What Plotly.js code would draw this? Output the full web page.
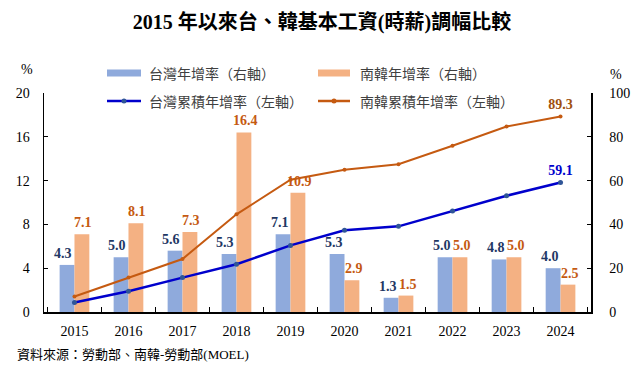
<!DOCTYPE html>
<html><head><meta charset="utf-8">
<script src="https://cdn.plot.ly/plotly-3.0.1.min.js"></script>
<style>html,body{margin:0;padding:0;background:#fff}</style>
</head><body>
<div id="chart" style="width:644px;height:371px"></div>
<script>
const years = ['2015','2016','2017','2018','2019','2020','2021','2022','2023','2024'];
const twAnnual = [4.3,5.0,5.6,5.3,7.1,5.3,1.3,5.0,4.8,4.0];
const krAnnual = [7.1,8.1,7.3,16.4,10.9,2.9,1.5,5.0,5.0,2.5];
const twCum = [4.3,9.5,15.7,21.8,30.4,37.3,39.1,46.1,53.1,59.1];
const krCum = [7.1,15.8,24.2,44.6,60.4,65.0,67.5,75.9,84.7,89.3];
const names = ['台灣年增率（右軸）','南韓年增率（右軸）','台灣累積年增率（左軸）','南韓累積年增率（左軸）'];

const SERIF = 'Liberation Serif, Times New Roman, Noto Sans CJK TC, serif';
const CJK = 'Noto Sans CJK TC, Liberation Serif, sans-serif';
const C = {twBar:'#8FAADC', krBar:'#F4B183', twLine:'#0000CC', twMark:'#2F5597', krLine:'#C55A11',
  twText:'#1F3864', krText:'#C55A11', krEnd:'#A0500E'};

function lastOnly(arr){ return arr.map((v,i)=> i===arr.length-1 ? v.toFixed(1) : ''); }

const traces = [
  {type:'bar', name:names[0], x:years, y:twAnnual, marker:{color:C.twBar}, yaxis:'y', showlegend:false},
  {type:'bar', name:names[1], x:years, y:krAnnual, marker:{color:C.krBar}, yaxis:'y', showlegend:false},
  {type:'scatter', mode:'lines+markers+text', name:names[2], x:years, y:twCum, yaxis:'y2',
   line:{color:C.twLine, width:2.5}, marker:{color:C.twMark, size:5},
   text:lastOnly(twCum), textposition:'top center', cliponaxis:false,
   textfont:{family:SERIF, size:14, color:C.twLine, weight:'bold'}, showlegend:false},
  {type:'scatter', mode:'lines+markers+text', name:names[3], x:years, y:krCum, yaxis:'y2',
   line:{color:C.krLine, width:2}, marker:{color:C.krLine, size:4},
   text:lastOnly(krCum), textposition:'top center', cliponaxis:false,
   textfont:{family:SERIF, size:14, color:C.krEnd, weight:'bold'}, showlegend:false}
];

const L = 44, R = 591, T = 93, B = 312;
function px(x){ return (x - L)/(R - L); }
function py(y){ return (B - y)/(B - T); }

const shapes = [], annotations = [];
// bar value labels (x = category index on the category axis)
years.forEach((yr,i)=>{
  annotations.push({xref:'x', yref:'y', x:i, y:twAnnual[i], xshift:-11, yshift:2,
    xanchor:'center', yanchor:'bottom', text:twAnnual[i].toFixed(1), showarrow:false,
    font:{family:SERIF, size:14, color:C.twText, weight:'bold'}});
  annotations.push({xref:'x', yref:'y', x:i, y:krAnnual[i], xshift:9, yshift:2,
    xanchor:'center', yanchor:'bottom', text:krAnnual[i].toFixed(1), showarrow:false,
    font:{family:SERIF, size:14, color:C.krText, weight:'bold'}});
});
// manual legend
const leg = [
  {x0:107,x1:141,y:73,tx:147,kind:'bar',color:C.twBar,label:names[0]},
  {x0:318,x1:350,y:73,tx:358,kind:'bar',color:C.krBar,label:names[1]},
  {x0:107,x1:141,y:101,tx:147,kind:'line',color:C.twLine,mcolor:C.twMark,label:names[2]},
  {x0:318,x1:350,y:101,tx:358,kind:'line',color:C.krLine,mcolor:C.krLine,label:names[3]}
];
leg.forEach(e=>{
  if(e.kind==='bar'){
    shapes.push({type:'rect', xref:'paper', yref:'paper', x0:px(e.x0), x1:px(e.x1),
      y0:py(e.y+3.5), y1:py(e.y-3.5), fillcolor:e.color, line:{width:0}});
  } else {
    shapes.push({type:'line', xref:'paper', yref:'paper', x0:px(e.x0), x1:px(e.x1),
      y0:py(e.y), y1:py(e.y), line:{color:e.color, width:2.5}});
    const cx = (e.x0+e.x1)/2;
    shapes.push({type:'circle', xref:'paper', yref:'paper', xsizemode:'pixel', ysizemode:'pixel',
      xanchor:px(cx), yanchor:py(e.y), x0:-2.5, x1:2.5, y0:-2.5, y1:2.5,
      fillcolor:e.mcolor, line:{width:0}});
  }
  annotations.push({xref:'paper', yref:'paper', x:px(e.tx), y:py(e.y), xanchor:'left', yanchor:'middle',
    text:e.label, showarrow:false, font:{family:CJK, size:14, color:'#404040'}});
});
annotations.push({xref:'paper', yref:'paper', x:px(27), y:py(70), xanchor:'center', yanchor:'middle',
  text:'%', showarrow:false, font:{family:SERIF, size:14, color:'#000'}});
annotations.push({xref:'paper', yref:'paper', x:px(616), y:py(75), xanchor:'center', yanchor:'middle',
  text:'%', showarrow:false, font:{family:SERIF, size:14, color:'#000'}});
annotations.push({xref:'paper', yref:'paper', x:px(15), y:py(354), xanchor:'left', yanchor:'middle',
  text:'資料來源：勞動部、南韓-勞動部(MOEL)', showarrow:false, font:{family:'Liberation Serif, Noto Sans CJK TC, serif', size:13, color:'#000'}});

const layout = {
  width:644, height:371,
  margin:{l:L, r:644-R, t:T, b:371-B, pad:0},
  paper_bgcolor:'#fff', plot_bgcolor:'#fff',
  title:{text:'2015 年以來台、韓基本工資(時薪)調幅比較', x:0.5, xref:'container', xanchor:'center',
    y:1-22/371, yref:'container', yanchor:'middle',
    font:{family:SERIF, size:20, color:'#000', weight:'bold'}},
  barmode:'group', bargap:0.45, bargroupgap:0,
  showlegend:false,
  xaxis:{type:'category', showline:true, linecolor:'#000', linewidth:1.5, ticks:'inside', ticklen:5,
    tickcolor:'#000', tickson:'boundaries', showgrid:false, zeroline:false,
    tickfont:{family:SERIF, size:14, color:'#000'}, ticklabelstandoff:6},
  yaxis:{range:[0,20], dtick:4, tick0:0, showline:true, linecolor:'#000', linewidth:1.5,
    ticks:'inside', ticklen:4, tickcolor:'#000', showgrid:false, zeroline:false,
    tickfont:{family:SERIF, size:14, color:'#000'}, ticklabelstandoff:10},
  yaxis2:{range:[0,100], dtick:20, tick0:0, overlaying:'y', side:'right', showline:true,
    linecolor:'#000', linewidth:1.5, ticks:'inside', ticklen:4, tickcolor:'#000',
    showgrid:false, zeroline:false, tickfont:{family:SERIF, size:14, color:'#000'}, ticklabelstandoff:14},
  shapes:shapes, annotations:annotations
};

Plotly.newPlot('chart', traces, layout, {displayModeBar:false, staticPlot:true});
</script>
</body></html>
